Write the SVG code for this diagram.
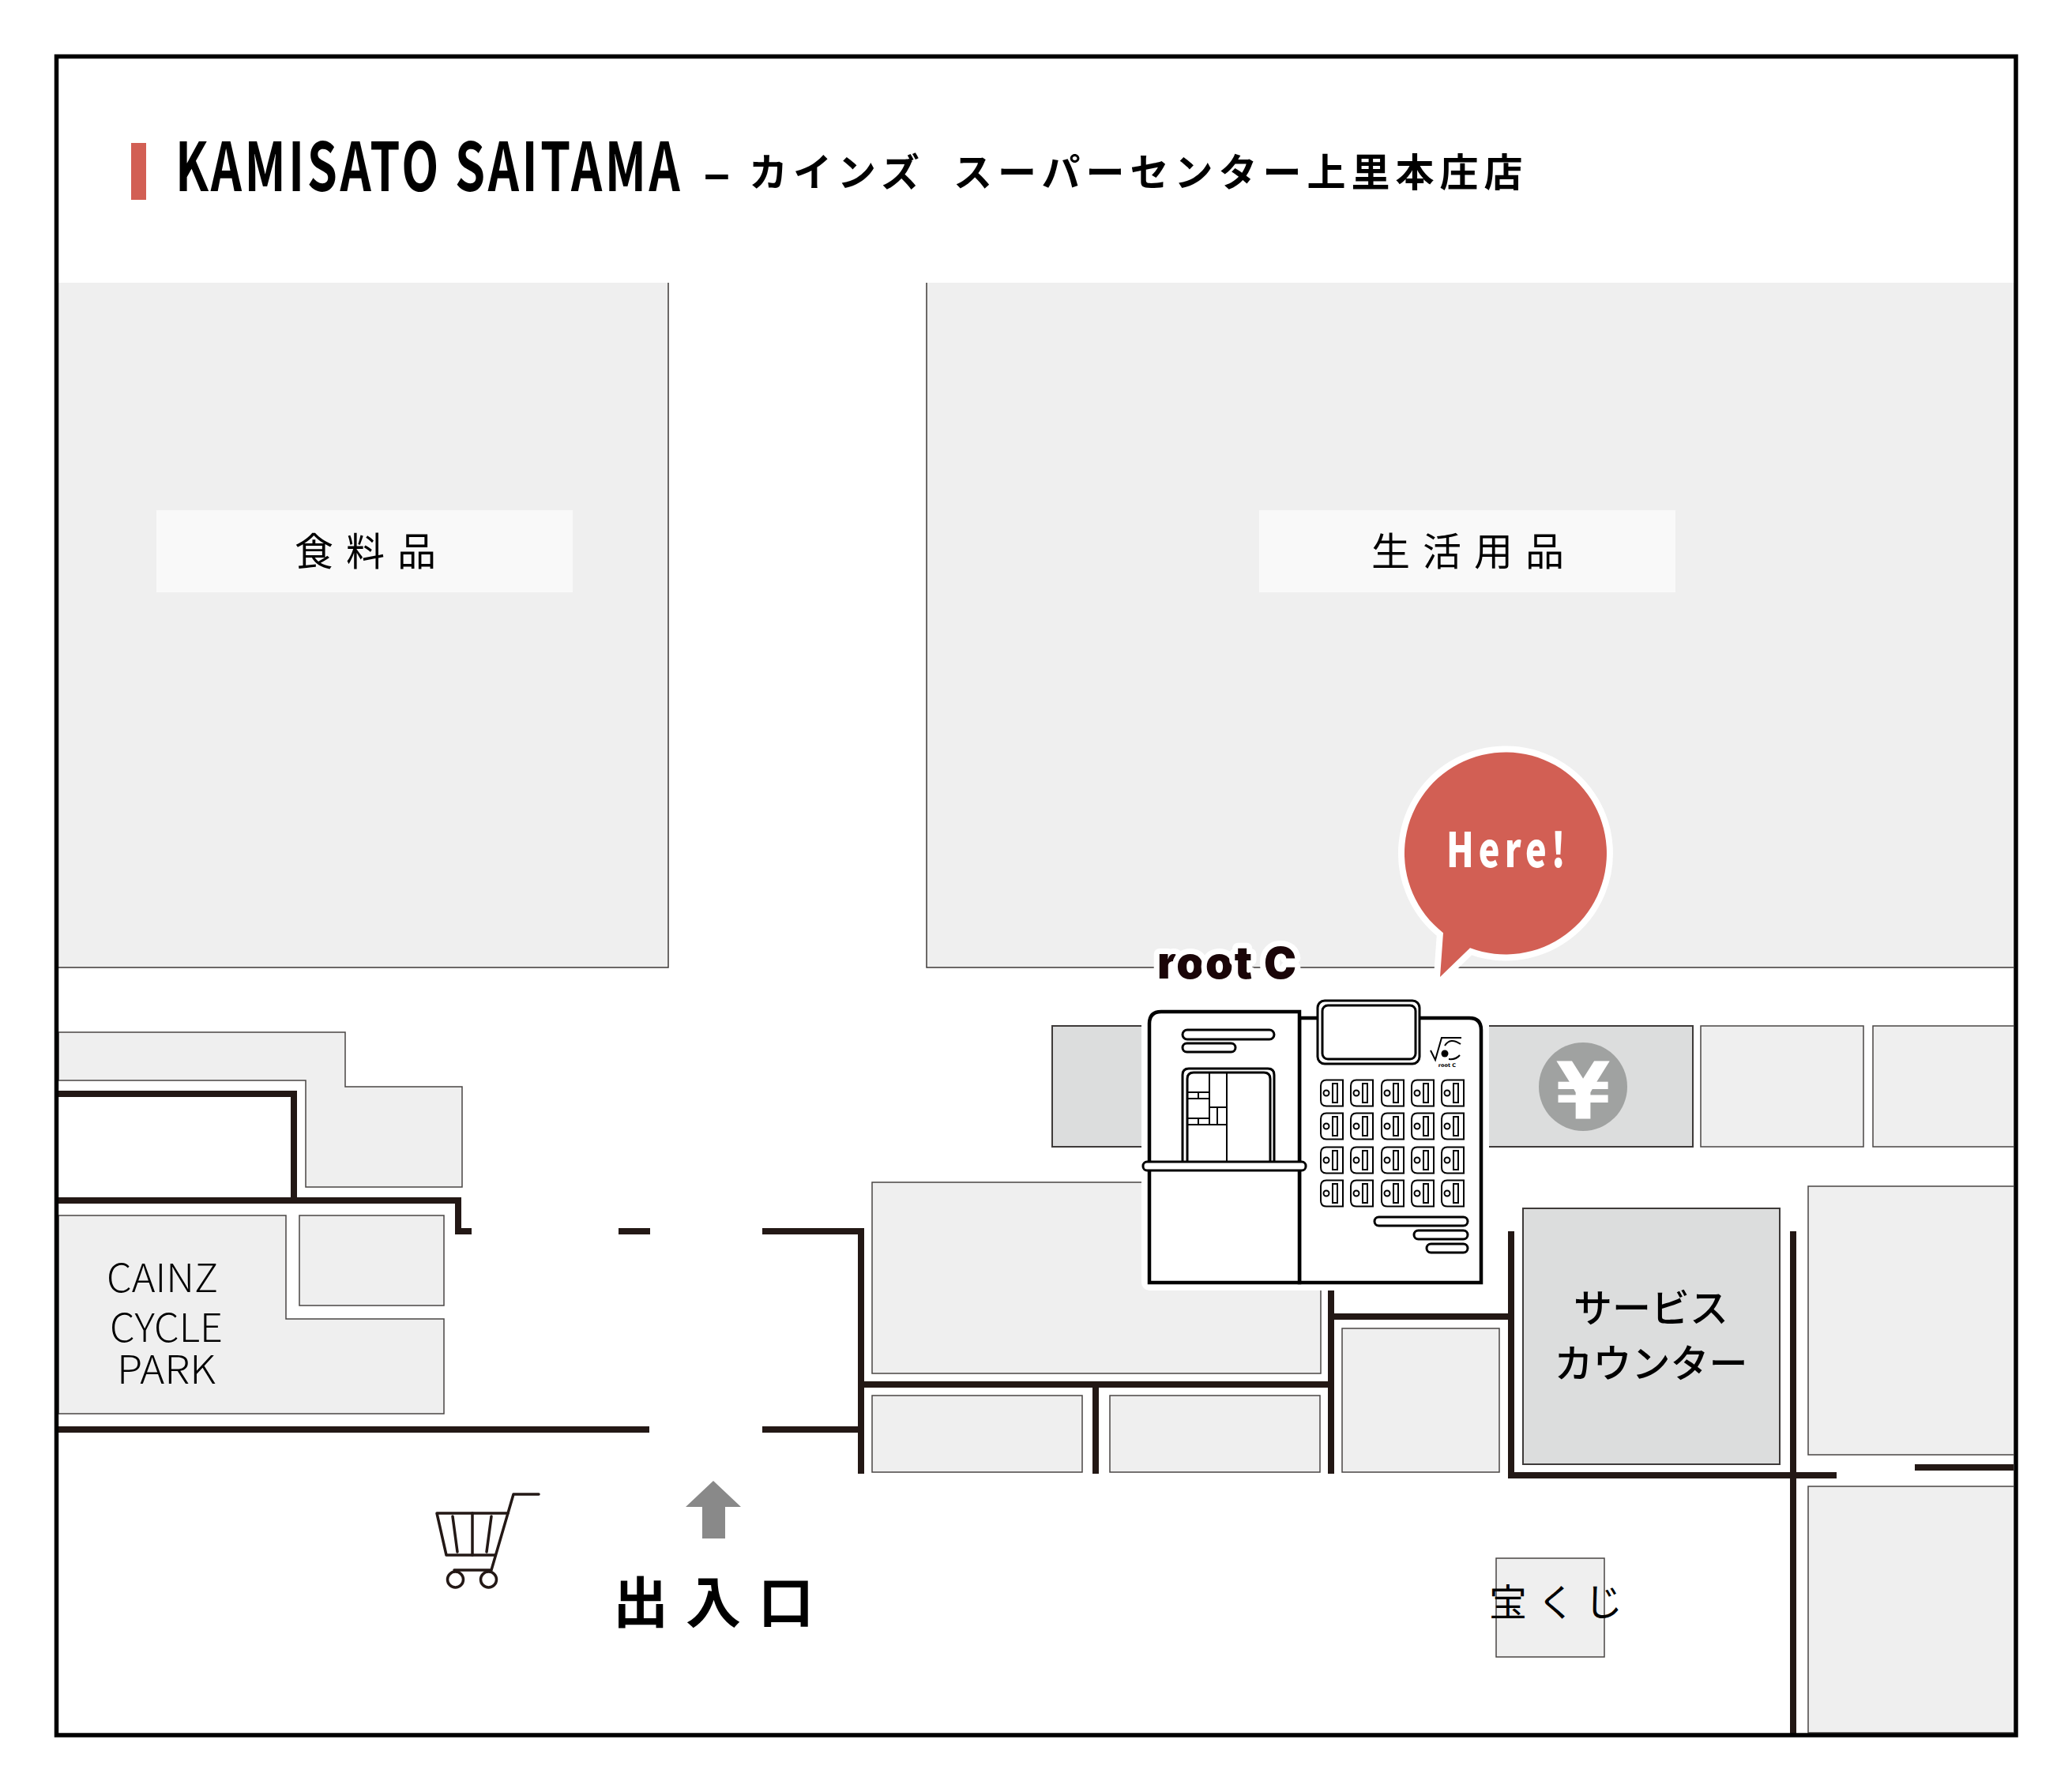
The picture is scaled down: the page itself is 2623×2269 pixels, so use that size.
<svg xmlns="http://www.w3.org/2000/svg" width="2623" height="2269" viewBox="0 0 2623 2269" xmlns:xlink="http://www.w3.org/1999/xlink">
<style>
.jp{font-family:"Noto Sans CJK JP","Noto Sans",sans-serif}
.b{fill:#efefef;stroke:#4a4644;stroke-width:1.5}
.g{fill:#dcdddd;stroke:#3e3a39;stroke-width:2}
.w{fill:none;stroke:#231815;stroke-width:8;stroke-linecap:butt}
.m{fill:#fff;stroke:#000;stroke-width:3}
.m2{fill:none;stroke:#000;stroke-width:2}
.lbl{font-size:49px;fill:#000;font-weight:400}
.cy{font-family:"Noto Sans CJK JP","Noto Sans",sans-serif;font-size:50px;font-weight:300;fill:#000}
.cart{fill:none;stroke:#231815;stroke-width:3.5;stroke-linecap:round;stroke-linejoin:round}
</style>
<defs>
<g id="slot"><path class="m2" d="M29 .5H8Q1 .5 1 8V26Q1 33.500 8 33.500H29Z"/><circle class="m2" cx="8" cy="17" r="3.500"/><rect class="m2" x="16" y="5" width="6" height="24"/></g>
</defs>
<rect width="2623" height="2269" fill="#fff"/>

<g id="title">
<rect x="166" y="181" width="19" height="72" fill="#d25f54"/>
<text class="jp" transform="translate(222,242) scale(.72,1)" font-size="85" font-weight="700" textLength="887" lengthAdjust="spacing" fill="#000">KAMISATO SAITAMA</text>
<text class="jp" y="236" font-size="49" font-weight="700" letter-spacing="7" fill="#000"><tspan x="890" font-size="64" dy="6">–</tspan><tspan x="948" dy="-6">カインズ</tspan><tspan x="1207">スーパーセンター上里本庄店</tspan></text>
</g>

<g id="food-area">
<path d="M74 358H846V1225H74Z" fill="#efefef"/>
<path d="M846 358V1225H74" fill="none" stroke="#3e3a39" stroke-width="1.500"/>
<rect x="198" y="646" width="527" height="104" fill="#f9f9f9"/>
<text class="jp lbl" y="716"><tspan x="373">食</tspan><tspan x="438">料</tspan><tspan x="503">品</tspan></text>
</g>

<g id="household-area">
<path d="M1173 358H2549V1225H1173Z" fill="#efefef"/>
<path d="M1173 358V1225H2549" fill="none" stroke="#3e3a39" stroke-width="1.500"/>
<rect x="1594" y="646" width="527" height="104" fill="#f9f9f9"/>
<text class="jp lbl" y="716"><tspan x="1736">生</tspan><tspan x="1801">活</tspan><tspan x="1866">用</tspan><tspan x="1931">品</tspan></text>
</g>

<g id="cycle-top"><path class="b" d="M74 1307H437V1376H585V1503H387V1368H74Z"/></g>
<g id="cainz-cycle-park">
<path class="b" d="M74 1539H362V1670H562V1790H74Z"/>
<text class="cy" x="135" y="1636" textLength="141" lengthAdjust="spacingAndGlyphs">CAINZ</text>
<text class="cy" x="139" y="1699" textLength="143" lengthAdjust="spacingAndGlyphs">CYCLE</text>
<text class="cy" x="148" y="1752" textLength="125" lengthAdjust="spacingAndGlyphs">PARK</text>
</g>
<g id="cycle-small"><rect class="b" x="379" y="1539" width="183" height="114"/></g>

<g id="atm-row">
<rect class="g" x="1332" y="1299" width="811" height="153"/>
<circle cx="2004" cy="1376" r="56" fill="#a0a2a1"/>
<text x="2004" y="1416" font-family="'DejaVu Sans',sans-serif" font-weight="700" font-size="100" text-anchor="middle" fill="#fff">¥</text>
</g>
<g id="shop-a"><rect class="b" x="2153" y="1299" width="206" height="153"/></g>
<g id="shop-b"><path class="b" d="M2549 1299H2371V1452H2549"/></g>
<g id="block-a"><rect class="b" x="1104" y="1497" width="568" height="242"/></g>
<g id="block-b"><rect class="b" x="1104" y="1767" width="266" height="97"/></g>
<g id="block-c"><rect class="b" x="1405" y="1767" width="266" height="97"/></g>
<g id="block-d"><rect class="b" x="1699" y="1682" width="199" height="182"/></g>
<g id="service-counter">
<rect class="g" x="1928" y="1530" width="325" height="324"/>
<text class="jp" font-size="49" font-weight="500" fill="#000" text-anchor="middle"><tspan x="2090" y="1674">サービス</tspan><tspan x="2090" y="1744">カウンター</tspan></text>
</g>
<g id="block-e"><path class="b" d="M2549 1502H2289V1842H2549"/></g>
<g id="block-f"><path class="b" d="M2549 1882H2289V2194H2549"/></g>
<g id="lottery">
<rect class="b" x="1894" y="1973" width="137" height="125"/>
<text class="jp" font-size="48" font-weight="400" fill="#000" y="2046"><tspan x="1885">宝</tspan><tspan x="1946">く</tspan><tspan x="2006">じ</tspan></text>
</g>

<g id="connectors">
<path class="w" d="M74 1385H372V1520"/>
<path class="w" d="M74 1520H580V1559H597"/>
<path class="w" d="M783 1559H823"/>
<path class="w" d="M965 1559H1090V1866"/>
<path class="w" d="M74 1810H822"/>
<path class="w" d="M965 1810H1090"/>
<path class="w" d="M1090 1753H1685"/>
<path class="w" d="M1387 1753V1866"/>
<path class="w" d="M1685 1630V1866"/>
<path class="w" d="M1685 1667H1913"/>
<path class="w" d="M1913 1559V1868H2325"/>
<path class="w" d="M2270 1559V2197"/>
<path class="w" d="M2424 1858H2549"/>
</g>

<rect id="frame" x="71.500" y="71.500" width="2480.500" height="2125.500" fill="none" stroke="#000" stroke-width="5.500"/>

<g id="cart" class="cart">
<path d="M682 1892H650L622 1988H575"/>
<path d="M643 1916H553L565 1969H627"/>
<path d="M598 1916V1969M573 1920L579 1965M622 1920L616 1965"/>
<circle cx="576.500" cy="2000" r="10"/><circle cx="618.500" cy="2000" r="10"/>
</g>
<g id="entrance">
<path d="M903 1875L938 1908H918V1948H889V1908H868Z" fill="#898989"/>
<text class="jp" font-size="70" font-weight="700" fill="#000" y="2055"><tspan x="776">出</tspan><tspan x="868">入</tspan><tspan x="960">口</tspan></text>
</g>

<g id="here-bubble">
<path d="M1827 1181.200A128 128 0 1 1 1861 1200.300L1823 1237Z" fill="#d25f54" stroke="#fff" stroke-width="16" stroke-linejoin="miter"/>
<path d="M1827 1181.200A128 128 0 1 1 1861 1200.300L1823 1237Z" fill="#d25f54"/>
<text class="jp" transform="translate(1831,1098) scale(.75,1)" font-size="60" font-weight="900" letter-spacing="8" fill="#fff">Here!</text>
</g>

<g id="rootc-machine">
<rect x="1445" y="1258" width="440" height="376" rx="10" fill="#fff"/>
<path d="M1645 1289H1860Q1875 1289 1875 1304V1624H1645Z" fill="#fff" stroke="#000" stroke-width="4.500"/>
<path d="M1645 1281H1470Q1455 1281 1455 1296V1624H1645Z" fill="#fff" stroke="#000" stroke-width="4.500"/>
<rect class="m" x="1668" y="1267" width="129" height="80" rx="9"/>
<rect class="m" x="1674" y="1273" width="118" height="68" rx="7"/>
<rect class="m" x="1497" y="1304" width="116" height="12" rx="6"/>
<rect class="m" x="1497" y="1321" width="67" height="11" rx="5.500"/>
<path class="m" d="M1497 1470V1361Q1497 1353 1505 1353H1605Q1613 1353 1613 1361V1470"/>
<path class="m" d="M1503 1470V1366Q1503 1358 1511 1358H1600Q1608 1358 1608 1366V1470"/>
<path class="m2" d="M1531 1358V1424M1553 1358V1470M1503 1383H1531M1503 1391H1531M1517 1383V1391M1503 1416H1531M1503 1424H1553M1517 1416V1424M1531 1402H1553M1541 1402V1424"/>
<rect class="m" x="1447" y="1471" width="206" height="11" rx="5"/>
<use xlink:href="#slot" x="1671" y="1367"/><use xlink:href="#slot" x="1709" y="1367"/><use xlink:href="#slot" x="1748" y="1367"/><use xlink:href="#slot" x="1786" y="1367"/><use xlink:href="#slot" x="1824" y="1367"/>
<use xlink:href="#slot" x="1671" y="1409"/><use xlink:href="#slot" x="1709" y="1409"/><use xlink:href="#slot" x="1748" y="1409"/><use xlink:href="#slot" x="1786" y="1409"/><use xlink:href="#slot" x="1824" y="1409"/>
<use xlink:href="#slot" x="1671" y="1452"/><use xlink:href="#slot" x="1709" y="1452"/><use xlink:href="#slot" x="1748" y="1452"/><use xlink:href="#slot" x="1786" y="1452"/><use xlink:href="#slot" x="1824" y="1452"/>
<use xlink:href="#slot" x="1671" y="1494"/><use xlink:href="#slot" x="1709" y="1494"/><use xlink:href="#slot" x="1748" y="1494"/><use xlink:href="#slot" x="1786" y="1494"/><use xlink:href="#slot" x="1824" y="1494"/>
<rect class="m" x="1740" y="1541" width="118" height="11" rx="5.500"/>
<rect class="m" x="1790" y="1558" width="68" height="11" rx="5.500"/>
<rect class="m" x="1806" y="1575" width="52" height="11" rx="5.500"/>
<path class="m2" d="M1811 1330L1817 1342L1825 1314H1850"/>
<path class="m2" d="M1849 1322Q1836 1313 1829 1324M1834 1341Q1843 1342 1848 1336"/>
<circle cx="1829" cy="1334" r="4.500" fill="#000"/>
<text x="1832" y="1351" font-family="'DejaVu Sans',sans-serif" font-weight="700" font-size="6.500" text-anchor="middle" fill="#000">root C</text>
<text y="1239" font-family="Inter,'DejaVu Sans',sans-serif" font-weight="900" font-size="56" fill="#1a0508" stroke="#fff" stroke-width="14" stroke-linejoin="round" paint-order="stroke"><tspan x="1465" textLength="120">root</tspan><tspan x="1600" font-size="55">C</tspan></text>
</g>
</svg>
